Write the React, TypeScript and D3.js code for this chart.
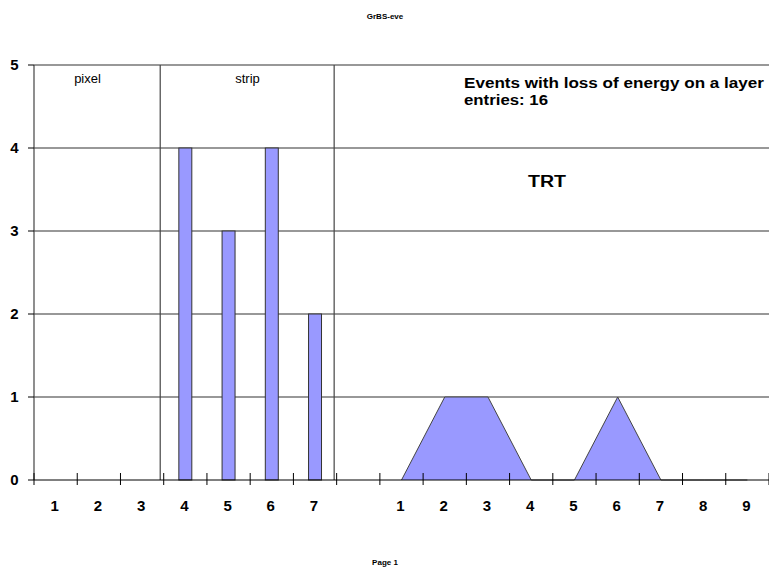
import React from "react";
import * as d3 from "d3";

const categories = ["1", "2", "3", "4", "5", "6", "7", "", "1", "2", "3", "4", "5", "6", "7", "8", "9"];
const siliconValues = [0, 0, 0, 4, 3, 4, 2, 0, null, null, null, null, null, null, null, null, null];
const trtValues = [null, null, null, null, null, null, null, null, 0, 1, 1, 0, 0, 1, 0, 0, 0];
const yTicks = [0, 1, 2, 3, 4, 5];
const title = "GrBS-eve";
const footer = "Page 1";
const headline = "Events with loss of energy on a layer";
const entries = "entries: 16";

const W = 769;
const H = 568;
const FONT = "'Liberation Sans', Arial, sans-serif";

export default function App() {
  const left = 34, right = 769, top = 65, bottom = 480;
  const idx = categories.map((_, i) => i);
  const x = d3.scaleBand<number>().domain(idx).range([left, right]).paddingInner(0).paddingOuter(0);
  const y = d3.scaleLinear().domain([0, 5]).range([bottom, top]);
  const bw = x.bandwidth();
  const barW = bw * 0.3;
  const cx = (i: number) => (x(i) as number) + bw / 2;

  const trtPts = trtValues
    .map((v, i) => ({ v, i }))
    .filter((d) => d.v !== null) as { v: number; i: number }[];
  const area = d3
    .area<{ v: number; i: number }>()
    .x((d) => cx(d.i))
    .y0(y(0))
    .y1((d) => y(d.v));
  const areaTop = d3
    .line<{ v: number; i: number }>()
    .x((d) => cx(d.i))
    .y((d) => y(d.v));

  const sep1 = (x(3) as number) - 3.5;
  const sep2 = (x(7) as number) - 2.5;

  return (
    <svg width={W} height={H} style={{ position: "absolute", left: 0, top: 0, background: "#fff" }} fontFamily={FONT}>
      <rect x={0} y={0} width={W} height={H} fill="#fff" />
      <text x={385} y={19} fontSize={8} fontWeight="bold" textAnchor="middle" fill="#000">{title}</text>
      {/* gridlines */}
      {yTicks.filter((t) => t > 0).map((t) => (
        <line key={t} x1={left} x2={right} y1={y(t)} y2={y(t)} stroke="#333" strokeWidth={1.2} />
      ))}
      {/* separators */}
      <line x1={sep1} x2={sep1} y1={y(5)} y2={y(0)} stroke="#444" strokeWidth={1.2} />
      <line x1={sep2} x2={sep2} y1={y(5)} y2={y(0)} stroke="#444" strokeWidth={1.2} />
      {/* area */}
      <path d={area(trtPts) || ""} fill="#9999FF" stroke="none" />
      <path d={areaTop(trtPts) || ""} fill="none" stroke="#444" strokeWidth={1} />
      {/* bars */}
      {siliconValues.map((v, i) =>
        v ? (
          <rect key={i} x={cx(i) - barW / 2} y={y(v)} width={barW} height={y(0) - y(v)} fill="#9999FF" stroke="#333" strokeWidth={1} />
        ) : null
      )}
      {/* axes */}
      <line x1={left} x2={left} y1={y(5)} y2={y(0)} stroke="#444" strokeWidth={1.2} />
      <line x1={left} x2={right} y1={y(0)} y2={y(0)} stroke="#000" strokeWidth={1} />
      {yTicks.map((t) => (
        <g key={t}>
          <line x1={left - 6} x2={left} y1={y(t)} y2={y(t)} stroke="#000" />
          <text x={14.5} y={y(t) + 5} fontSize={15} fontWeight="bold" textAnchor="middle">{t}</text>
        </g>
      ))}
      {idx.concat([categories.length]).map((i) => {
        const xx = i < categories.length ? (x(i) as number) : right;
        return <line key={"t" + i} x1={xx} x2={xx} y1={y(0) - 7} y2={y(0) + 5} stroke="#000" />;
      })}
      {categories.map((c, i) => (
        <text key={"l" + i} x={cx(i) - 1} y={511} fontSize={15} fontWeight="bold" textAnchor="middle">{c}</text>
      ))}
      {/* annotations */}
      <text x={87.5} y={83} fontSize={13} textAnchor="middle">pixel</text>
      <text x={247.5} y={83} fontSize={13} textAnchor="middle">strip</text>
      <text x={464} y={88} fontSize={14} fontWeight="bold" textLength={300} lengthAdjust="spacingAndGlyphs">{headline}</text>
      <text x={464} y={105} fontSize={14} fontWeight="bold" textLength={84} lengthAdjust="spacingAndGlyphs">{entries}</text>
      <text x={528} y={187} fontSize={16} fontWeight="bold" textLength={38} lengthAdjust="spacingAndGlyphs">TRT</text>
      <text x={385} y={565} fontSize={8} fontWeight="bold" textAnchor="middle">{footer}</text>
    </svg>
  );
}
